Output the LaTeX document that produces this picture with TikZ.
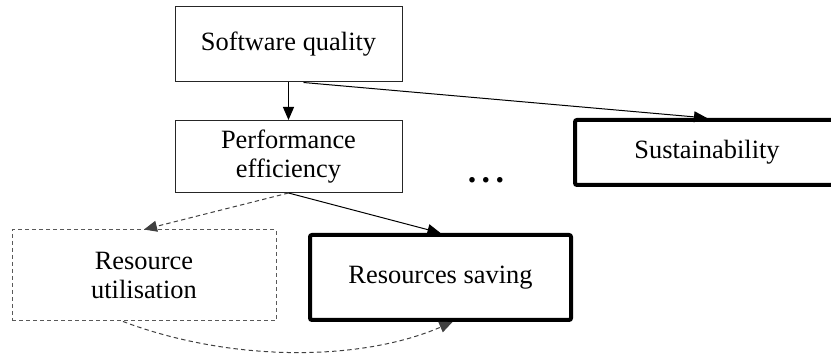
\documentclass[tikz,border=0pt]{standalone}
\usepackage{fontspec}
\setmainfont{Liberation Serif}
\usepackage{tikz}
\usetikzlibrary{arrows.meta,positioning}
\tikzstyle{box} = [rectangle, draw=black!85, line width=0.5pt, text centered, align=center, font=\fontsize{13.2}{14.5}\selectfont]
\tikzstyle{goal} = [box, draw=black, line width=2pt, rounded corners=1pt]
\tikzstyle{hidden} = [box, draw=black!65, dash pattern=on 2pt off 1.5pt]
\tikzstyle{arrow} = [line width=0.5pt, -{Triangle[length=6.5pt,width=5.5pt]}]
\tikzstyle{dasharrow} = [arrow, draw=black!75, dash pattern=on 2.2pt off 1.6pt]

\begin{document}
\begin{tikzpicture}[x=0.5pt, y=-0.5pt]
\useasboundingbox (0,0) rectangle (831,357);
% Quality model
\node (quality) [box, minimum width=113.5pt, minimum height=37.5pt] at (288.5,44.5) {Software quality};
\node (perf) [box, minimum width=113.5pt, minimum height=36pt] at (288.5,156.5) {Performance\\efficiency};
\node (util) [hidden, minimum width=132pt, minimum height=45.5pt] at (144,275.5) {Resource\\utilisation};

% Sustainability side
\node (sust) [goal, minimum width=132pt, minimum height=32.5pt] at (707,152.5) {Sustainability};
\node (saving) [goal, minimum width=130.5pt, minimum height=42.5pt] at (440.5,277.5) {Resources saving};
\node (dots) [font=\fontsize{17}{18}\selectfont\bfseries] at (486,180) {.\hspace{2.7pt}.\hspace{2.7pt}.};

% Arrows
\draw[arrow] (quality) -- (perf);
\draw[arrow] ([xshift=7.5pt]quality.south) -- (sust.north);
\draw[arrow] (perf.south) -- (saving.north);
\draw[dasharrow] (perf.south) -- (util.north);
\draw[dasharrow] ([xshift=-10.5pt]util.south) .. controls (230,362) and (360,362) .. ([xshift=6pt]saving.south);
\end{tikzpicture}
\end{document}
